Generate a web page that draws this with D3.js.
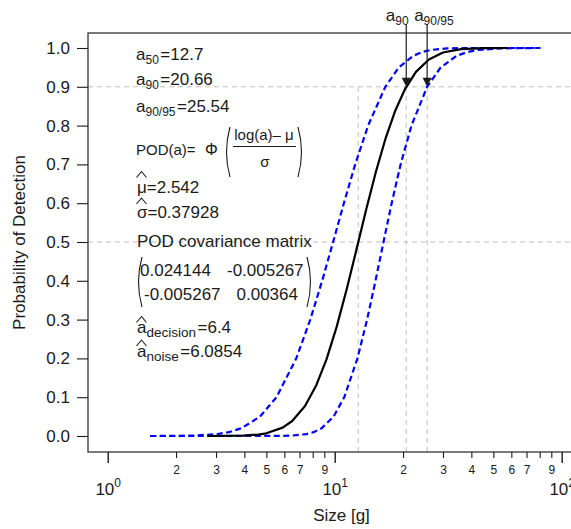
<!DOCTYPE html>
<html><head><meta charset="utf-8">
<script src="https://cdn.jsdelivr.net/npm/d3@7"></script>
<style>
body{margin:0;background:#fff}
svg{display:block}
text{font-family:Arial,"Liberation Sans",Helvetica,sans-serif;fill:#1a1a1a}
</style>
</head><body>
<svg id="c" width="571" height="529"></svg>
<script>
// ---- data ----
const sizeFit = [2.75,3.95,4.6,5.0,5.9,6.5,7.4,8.3,9.2,10.2,11.3,12.5,13.8,15.2,16.8,18.5,20.4,22.8,26,30,36,45,58];
const podFit  = [0.00003,0.00103,0.0037,0.00697,0.0216,0.0386,0.0771,0.1309,0.1974,0.2813,0.3787,0.4829,0.5863,0.6818,0.7693,0.8391,0.8941,0.9385,0.9705,0.9883,0.9970,0.99957,0.99997];
const podBound  = [0,0.0001,0.001,0.005,0.01,0.02,0.05,0.1,0.2,0.3,0.4,0.5,0.6,0.7,0.8,0.9,0.95,0.98,0.99,0.995,0.999,0.9999,1];
const sizeUpper = [1.54,1.780,2.393,3.044,3.420,3.882,4.690,5.542,6.770,7.807,8.806,9.840,10.976,12.311,14.033,16.710,19.173,22.222,24.424,26.567,31.407,38.222,80.5];
const sizeLower = [1.54,5.398,6.472,7.515,8.083,8.757,9.883,11.018,12.593,13.890,15.127,16.405,17.822,19.518,21.781,25.538,29.319,34.494,38.593,42.872,53.576,70.929,80.5];
const yTicks = [0,0.1,0.2,0.3,0.4,0.5,0.6,0.7,0.8,0.9,1.0];
const xMinorTicks = [2,3,4,5,6,7,8,9,20,30,40,50,60,70,80,90];
const xMajorTicks = [1,10,100];
const refLevels = [0.5,0.9];
const a50 = 12.7, a90 = 20.66, a9095 = 25.54;

// ---- layout ----
const svg = d3.select("#c");
const L = 88, R = 600, T = 33, B = 452;
const x = d3.scaleLog().domain([1,100]).range([107.7,561.7]);
const y = d3.scaleLinear().domain([0,1]).range([436,48]);
const ink = "#1a1a1a";

svg.append("defs").append("clipPath").attr("id","clip")
  .append("rect").attr("x",L).attr("y",T).attr("width",R-L).attr("height",B-T);

// reference lines
const grid = svg.append("g").attr("stroke","#bebebe").attr("stroke-width",1).attr("stroke-dasharray","5,4").attr("clip-path","url(#clip)");
refLevels.forEach(p => grid.append("line").attr("x1",L).attr("x2",R).attr("y1",y(p)).attr("y2",y(p)));
[[a50,0.9],[a90,0.9],[a9095,0.9]].forEach(([a,p]) =>
  grid.append("line").attr("x1",x(a)).attr("x2",x(a)).attr("y1",B).attr("y2",y(p)));

// curves
const line = d3.line().x(d=>x(d[0])).y(d=>y(d[1]));
const plot = svg.append("g").attr("clip-path","url(#clip)").attr("fill","none");
plot.append("path").datum(sizeUpper.map((s,i)=>[s,podBound[i]])).attr("d",line)
  .attr("stroke","#0000ff").attr("stroke-width",2.2).attr("stroke-dasharray","6,3.5");
plot.append("path").datum(sizeLower.map((s,i)=>[s,podBound[i]])).attr("d",line)
  .attr("stroke","#0000ff").attr("stroke-width",2.2).attr("stroke-dasharray","6,3.5");
plot.append("path").datum(sizeFit.map((s,i)=>[s,podFit[i]])).attr("d",line)
  .attr("stroke","#000").attr("stroke-width",2.2).attr("stroke-linejoin","round");

// box
svg.append("rect").attr("x",L).attr("y",T).attr("width",R-L).attr("height",B-T)
  .attr("fill","none").attr("stroke","#333").attr("stroke-width",1.3);

// y axis
const yAxis = d3.axisLeft(y).tickValues(yTicks).tickFormat(d3.format(".1f")).tickSize(11).tickPadding(7);
svg.append("g").attr("transform",`translate(${L},0)`).call(yAxis)
  .call(g=>g.select(".domain").remove())
  .call(g=>g.selectAll("line").attr("stroke",ink).attr("stroke-width",1.1))
  .call(g=>g.selectAll("text").attr("font-size",17).attr("fill",ink).attr("font-family",null));

// x axis minor
const xMinor = d3.axisBottom(x).tickValues(xMinorTicks)
  .tickFormat(d => { const s = String(d)[0]; return s==="8" ? "" : s; })
  .tickSize(6).tickPadding(7);
svg.append("g").attr("transform",`translate(0,${B})`).call(xMinor)
  .call(g=>g.select(".domain").remove())
  .call(g=>g.selectAll("line").attr("stroke",ink).attr("stroke-width",1.1))
  .call(g=>g.selectAll("text").attr("font-size",12).attr("fill",ink).attr("font-family",null));

// x axis major
const xMajor = d3.axisBottom(x).tickValues(xMajorTicks).tickFormat("").tickSize(11);
const gM = svg.append("g").attr("transform",`translate(0,${B})`).call(xMajor)
  .call(g=>g.select(".domain").remove())
  .call(g=>g.selectAll("line").attr("stroke",ink).attr("stroke-width",1.4));
gM.selectAll(".tick").each(function(d){
  const t = d3.select(this).append("text").attr("y",43).attr("text-anchor","middle")
    .attr("font-size",17).attr("fill",ink);
  t.append("tspan").text("10");
  t.append("tspan").attr("font-size",12).attr("dy",-8).text(String(Math.round(Math.log10(d))));
});

// axis titles
svg.append("text").attr("x",341.5).attr("y",521).attr("text-anchor","middle").attr("font-size",17).text("Size [g]");
svg.append("text").attr("transform",`translate(25,${(T+B)/2}) rotate(-90)`).attr("text-anchor","middle")
  .attr("font-size",17).text("Probability of Detection");

// arrows
[[a90,-20.5,"90"],[a9095,-13,"90/95"]].forEach(([a,off,sub])=>{
  const xa = x(a), yt = y(0.9);
  svg.append("line").attr("x1",xa).attr("x2",xa).attr("y1",24).attr("y2",yt-8)
    .attr("stroke",ink).attr("stroke-width",1.2);
  svg.append("path").attr("d",`M${xa},${yt} L${xa-4.5},${yt-9} L${xa+4.5},${yt-9} Z`).attr("fill",ink);
  const t = svg.append("text").attr("x",xa+off).attr("y",20.5).attr("font-size",17);
  t.append("tspan").text("a");
  t.append("tspan").attr("font-size",12).attr("dy",4.3).text(sub);
});

// ---- annotation text block ----
const ann = svg.append("g").attr("font-size",17);
function subText(xp, yp, base, sub, rest, subSize=12, shift=4){
  const t = ann.append("text").attr("x",xp).attr("y",yp);
  t.append("tspan").text(base);
  t.append("tspan").attr("font-size",subSize).attr("dy",shift).text(sub);
  t.append("tspan").attr("dy",-shift).attr("dx",1.5).text(rest);
  return t;
}
subText(136,60,"a","50","=12.7");
subText(136,85,"a","90","=20.66");
subText(136,111.5,"a","90/95","=25.54");

// POD formula
const f = ann.append("g").attr("font-size",15);
f.append("text").attr("x",136).attr("y",155).text("POD(a)=");
f.append("text").attr("x",205).attr("y",155).attr("font-size",16).text("Φ");
f.append("text").attr("x",264).attr("y",140).attr("text-anchor","middle").text("log(a)– μ");
f.append("line").attr("x1",233).attr("x2",296).attr("y1",146.5).attr("y2",146.5).attr("stroke",ink).attr("stroke-width",1);
f.append("text").attr("x",265).attr("y",167).attr("text-anchor","middle").text("σ");
const paren = (x0,y0,y1,dir)=>`M${x0},${y0} Q${x0-dir*7},${(y0+y1)/2} ${x0},${y1}`;
ann.append("path").attr("d",paren(230,127,177,1)).attr("fill","none").attr("stroke",ink).attr("stroke-width",1.1);
ann.append("path").attr("d",paren(298,127,177,-1)).attr("fill","none").attr("stroke",ink).attr("stroke-width",1.1);

// estimates with hats
const hat = (x0,yb)=>ann.append("path").attr("d",`M${x0},${yb} L${x0+5},${yb-6} L${x0+10},${yb}`)
  .attr("fill","none").attr("stroke",ink).attr("stroke-width",1.1);
ann.append("text").attr("x",137).attr("y",192.7).text("μ=2.542");
hat(136.5,177.5);
ann.append("text").attr("x",137).attr("y",218).text("σ=0.37928");
hat(136.5,204);
ann.append("text").attr("x",137).attr("y",247).text("POD covariance matrix");

// matrix
ann.append("text").attr("x",140).attr("y",276).text("0.024144");
ann.append("text").attr("x",227).attr("y",276).text("-0.005267");
ann.append("text").attr("x",144).attr("y",300).text("-0.005267");
ann.append("text").attr("x",236.5).attr("y",300).text("0.00364");
ann.append("path").attr("d",paren(142,257,307,1)).attr("fill","none").attr("stroke",ink).attr("stroke-width",1.1);
ann.append("path").attr("d",paren(307,257,307,-1)).attr("fill","none").attr("stroke",ink).attr("stroke-width",1.1);

subText(137,333,"a","decision","=6.4",13.5,4);
hat(136.5,322.5);
subText(137,356.5,"a","noise","=6.0854",13.5,4);
hat(136.5,346);
</script>
</body></html>
